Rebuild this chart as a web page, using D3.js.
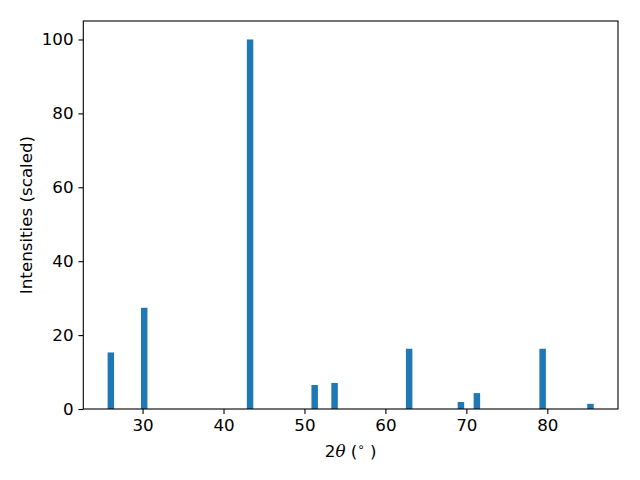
<!DOCTYPE html>
<html><head><meta charset="utf-8">
<script src="https://cdn.jsdelivr.net/npm/d3@7"></script>
<style>body{margin:0;background:#fff}svg{display:block}</style>
</head><body>
<svg id="c" width="640" height="480"></svg>
<script>
const angles = [26.08, 30.2, 43.28, 51.26, 53.72, 62.93, 69.33, 71.3, 79.42, 85.33];
const intensities = [15.3, 27.4, 100, 6.5, 7.05, 16.3, 1.9, 4.3, 16.3, 1.4];
const xTicks = [30, 40, 50, 60, 70, 80];
const yTicks = [0, 20, 40, 60, 80, 100];
const barWidth = 0.8;

const svg = d3.select("#c");
const L = 83.3, R = 618, T = 21, B = 409;
const lo = d3.min(angles) - barWidth/2, hi = d3.max(angles) + barWidth/2;
const m = (hi - lo) * 0.05;
const x = d3.scaleLinear().domain([lo - m, hi + m]).range([L, R]);
const y = d3.scaleLinear().domain([0, d3.max(intensities) * 1.05]).range([B, T]);
const font = "DejaVu Sans, sans-serif";
const fs = "16.7px";

svg.append("g").selectAll("rect").data(angles).join("rect")
  .attr("x", d => x(d - barWidth/2))
  .attr("width", d => x(d + barWidth/2) - x(d - barWidth/2))
  .attr("y", (d, i) => y(intensities[i]))
  .attr("height", (d, i) => y(0) - y(intensities[i]))
  .attr("fill", "#1f77b4");

const xa = svg.append("g").attr("transform", `translate(0,${B})`)
  .call(d3.axisBottom(x).tickValues(xTicks).tickSize(4.9).tickPadding(4.9).tickFormat(d3.format("d")));
const ya = svg.append("g").attr("transform", `translate(${L},0)`)
  .call(d3.axisLeft(y).tickValues(yTicks).tickSize(4.9).tickPadding(4.9).tickFormat(d3.format("d")));
[xa, ya].forEach(a => {
  a.select(".domain").remove();
  a.attr("font-size", null).attr("font-family", null);
  a.selectAll("line").attr("stroke", "#000").attr("stroke-width", 1.1);
  a.selectAll("text").style("font-family", font).style("font-size", fs).attr("fill", "#000");
});

svg.append("rect").attr("x", L).attr("y", T).attr("width", R - L).attr("height", B - T)
  .attr("fill", "none").attr("stroke", "#000").attr("stroke-width", 1.1);

const xl = svg.append("text").attr("x", (L + R)/2).attr("y", 457)
  .attr("text-anchor", "middle").style("font-family", font).style("font-size", fs).attr("fill", "#000");
xl.append("tspan").text("2");
xl.append("tspan").style("font-style", "italic").style("font-family", "DejaVu Serif, serif").text("θ");
xl.append("tspan").text(" (");
xl.append("tspan").style("font-size", "11.7px").attr("dy", -6).text("∘");
xl.append("tspan").attr("dy", 6).text(" )");

svg.append("text").attr("transform", `translate(32,${(T + B)/2}) rotate(-90)`)
  .attr("text-anchor", "middle").style("font-family", font).style("font-size", fs).attr("fill", "#000")
  .text("Intensities (scaled)");
</script>
</body></html>
